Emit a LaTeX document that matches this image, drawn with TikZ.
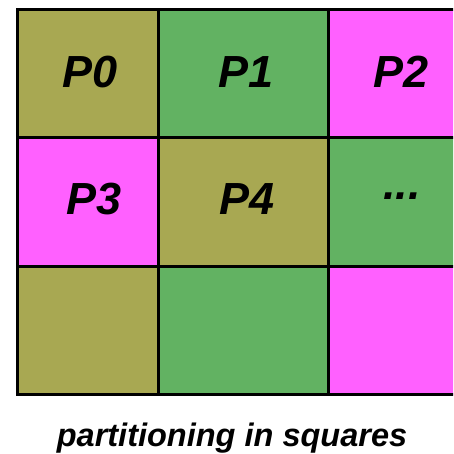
\documentclass[tikz,border=0pt]{standalone}
\usepackage{fontspec}
\setmainfont{Liberation Sans}
\definecolor{olive}{HTML}{A8A852}
\definecolor{grn}{HTML}{62B262}
\definecolor{mag}{HTML}{FF60FF}
\begin{document}
\begin{tikzpicture}[x=1pt,y=1pt,
  lbl/.style={anchor=base,inner sep=0pt,font=\fontsize{45}{45}\selectfont\bfseries\itshape},
  captext/.style={anchor=base,inner sep=0pt,font=\fontsize{32.5}{32.5}\selectfont\bfseries\itshape},
  gridline/.style={line width=3pt}]
\useasboundingbox (0,0) rectangle (453,454);
\begin{scope}
\clip (0,0) rectangle (453,454);
\path[fill=olive] (17,444) rectangle (158.7,316.5);
\path[fill=grn] (158.7,444) rectangle (328.5,316.5);
\path[fill=mag] (328.5,444) rectangle (500,316.5);
\path[fill=mag] (17,316.5) rectangle (158.7,187.5);
\path[fill=olive] (158.7,316.5) rectangle (328.5,187.5);
\path[fill=grn] (328.5,316.5) rectangle (500,187.5);
\path[fill=olive] (17,187.5) rectangle (158.7,59);
\path[fill=grn] (158.7,187.5) rectangle (328.5,59);
\path[fill=mag] (328.5,187.5) rectangle (500,59);
\draw[gridline] (500,444) -- (17,444) -- (17,59) -- (500,59);
\draw[gridline] (17,316.5) -- (500,316.5);
\draw[gridline] (17,187.5) -- (500,187.5);
\draw[gridline] (158.7,444) -- (158.7,59);
\draw[gridline] (328.5,444) -- (328.5,59);
\end{scope}
\node[lbl] (p0) at (90,366.5) {P0};
\node[lbl] (p1) at (246,366.5) {P1};
\node[lbl] (p2) at (401,366.5) {P2};
\node[lbl] (p3) at (94,239) {P3};
\node[lbl] (p4) at (247,239) {P4};
\node[lbl] (dots) at (402,254) {...};
\node[captext] (caption) at (232,7.2) {partitioning in squares};
\end{tikzpicture}
\end{document}
